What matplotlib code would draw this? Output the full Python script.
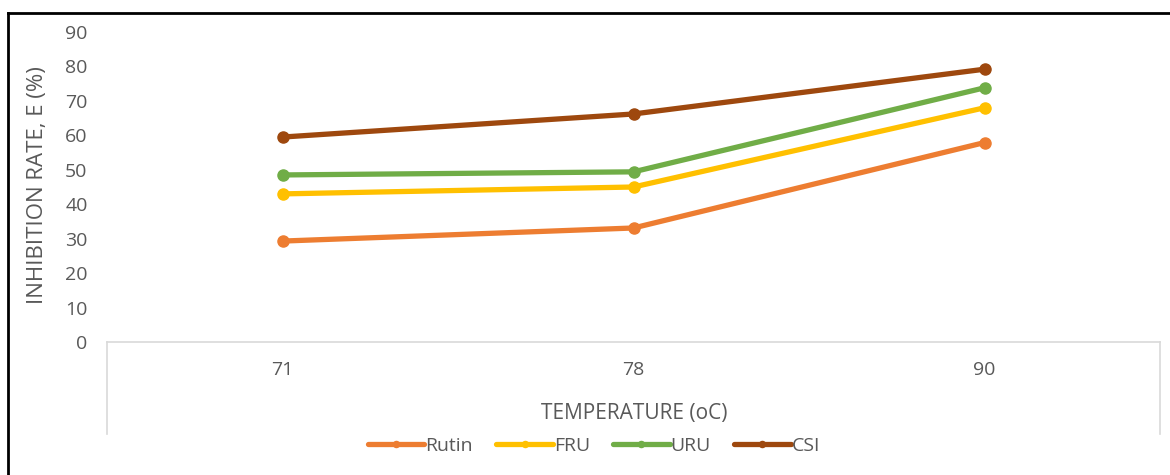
import matplotlib
matplotlib.use("Agg")
import matplotlib.pyplot as plt
from matplotlib.lines import Line2D

categories = ["71", "78", "90"]
series_names = ["Rutin", "FRU", "URU", "CSI"]
rutin = [29.3, 33.1, 57.9]
fru = [43.0, 45.0, 68.0]
uru = [48.5, 49.4, 73.8]
csi = [59.5, 66.2, 79.2]
values = [rutin, fru, uru, csi]
colors = ["#ED7D31", "#FFC000", "#70AD47", "#9E480E"]
yticks = [0, 10, 20, 30, 40, 50, 60, 70, 80, 90]

plt.rcParams['font.family'] = ['Open Sans', 'DejaVu Sans']

W, H = 1170, 475
fig = plt.figure(figsize=(W / 100, H / 100), dpi=100)

# outer border (top and left visible)
fig.add_artist(Line2D([8 / W, 8 / W], [0, 1 - 13 / H], transform=fig.transFigure, color="black", lw=2))
fig.add_artist(Line2D([8 / W, 1], [1 - 13 / H, 1 - 13 / H], transform=fig.transFigure, color="black", lw=2))

left, right, top, bottom = 107, 1160, 32, 342
ax = fig.add_axes([left / W, 1 - bottom / H, (right - left) / W, (bottom - top) / H])

x = list(range(len(categories)))
for name, vals, c in zip(series_names, values, colors):
    ax.plot(x, vals, color=c, lw=3.8, marker="o", markersize=8, label=name,
            solid_capstyle="round")

ax.set_xlim(-0.5, len(categories) - 0.5)
ax.set_ylim(0, 90)
ax.set_yticks(yticks)
ax.set_xticks(x)
ax.set_xticklabels(categories)
for s in ["top", "right", "left"]:
    ax.spines[s].set_visible(False)
ax.spines["bottom"].set_color("#d9d9d9")
ax.spines["bottom"].set_linewidth(1.2)
ax.tick_params(axis="both", length=0, labelsize=14, colors="#595959")
ax.tick_params(axis="y", pad=14)
ax.tick_params(axis="x", pad=14)

# category axis boundary lines extending below
ext = -(434 - 342) / (bottom - top)
for xv in [-0.5, len(categories) - 0.5]:
    ax.plot([xv, xv], [0, ext], transform=ax.get_xaxis_transform(), color="#d9d9d9",
            lw=1.2, clip_on=False)

fig.text(634 / W, 1 - 414 / H, "TEMPERATURE (oC)", ha="center", va="center",
         fontsize=15, color="#595959")
fig.text(38 / W, 1 - 185 / H, "INHIBITION RATE, E (%)", rotation=90, ha="center", va="center",
         fontsize=16, color="#595959")

handles, labels = ax.get_legend_handles_labels()
fig.legend(handles, labels, loc="center", bbox_to_anchor=(594 / W, 1 - 446 / H), ncol=4,
           frameon=False, fontsize=14, labelcolor="#595959", handlelength=2.9,
           handletextpad=0.05, columnspacing=1.2, markerscale=0.55)

fig.savefig("out.png", dpi=100)
